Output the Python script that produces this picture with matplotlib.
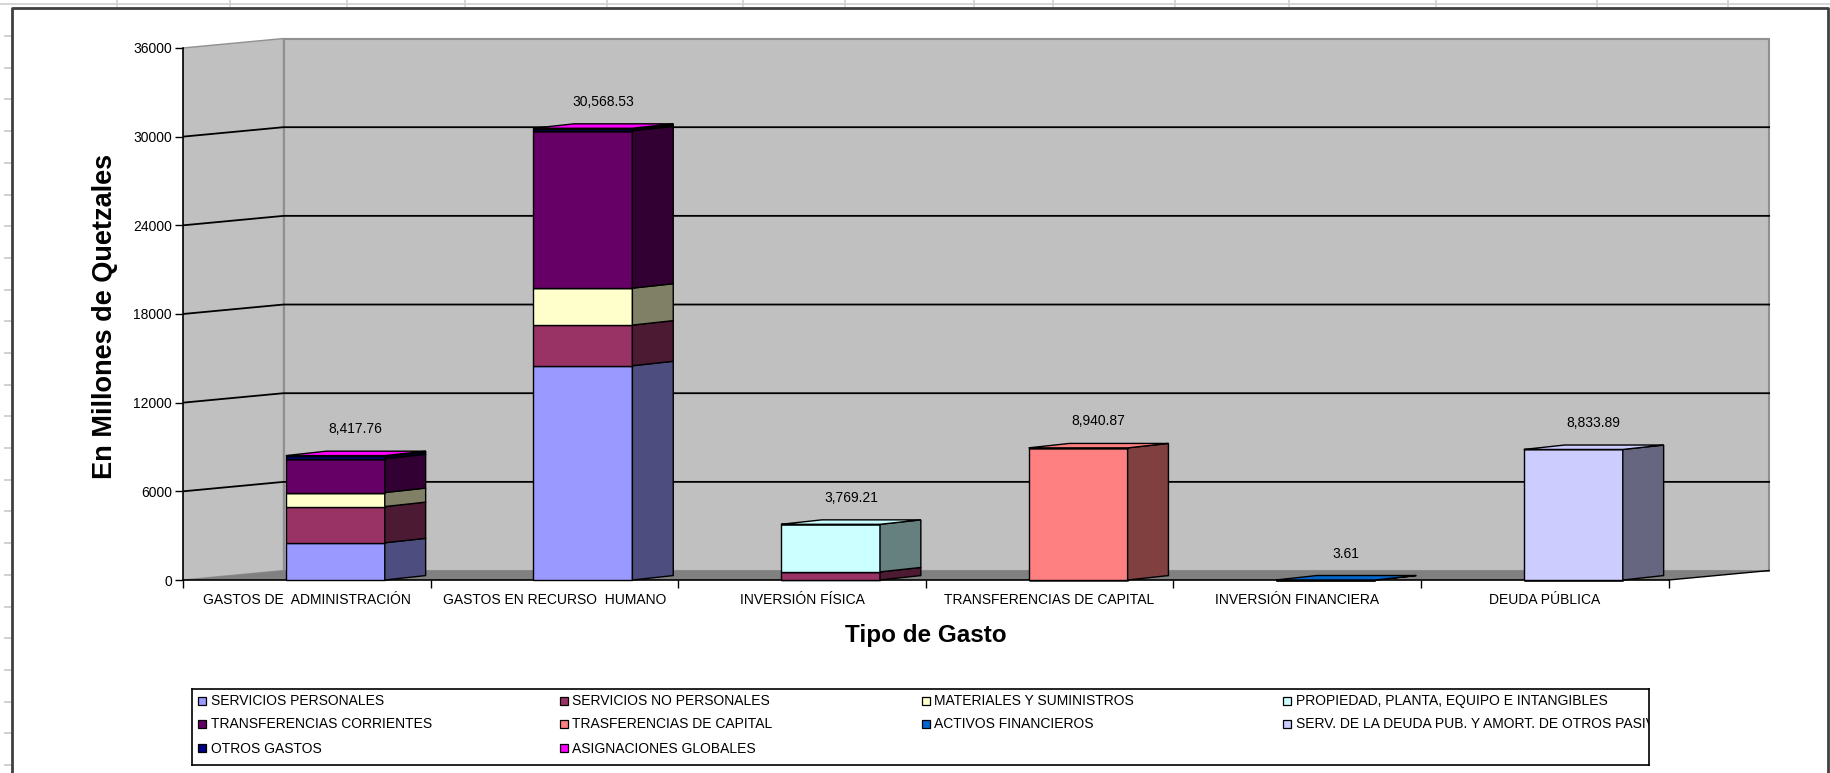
import matplotlib.pyplot as plt
from matplotlib.patches import Polygon, Rectangle
from matplotlib.lines import Line2D

plt.rcParams['font.family'] = ['Liberation Sans', 'DejaVu Sans']

categorias = ["GASTOS DE  ADMINISTRACIÓN", "GASTOS EN RECURSO  HUMANO", "INVERSIÓN FÍSICA",
              "TRANSFERENCIAS DE CAPITAL", "INVERSIÓN FINANCIERA", "DEUDA PÚBLICA"]

# valores por serie (millones de quetzales), una entrada por categoria
servicios_personales  = [2520.00, 14500.00, 0, 0, 0, 0]
servicios_no_pers     = [2450.00, 2750.00, 550.00, 0, 0, 0]
materiales            = [950.00, 2500.00, 0, 0, 0, 0]
propiedad             = [0, 0, 3219.21, 0, 0, 0]
transf_corrientes     = [2290.00, 10650.00, 0, 0, 0, 0]
transf_capital        = [0, 0, 0, 8940.87, 0, 0]
activos_financieros   = [0, 0, 0, 0, 3.61, 0]
serv_deuda            = [0, 0, 0, 0, 0, 8833.89]
otros_gastos          = [150.00, 100.00, 0, 0, 0, 0]
asignaciones_globales = [57.76, 68.53, 0, 0, 0, 0]

nombres = ["SERVICIOS PERSONALES", "SERVICIOS NO PERSONALES", "MATERIALES Y SUMINISTROS",
           "PROPIEDAD, PLANTA, EQUIPO E INTANGIBLES", "TRANSFERENCIAS CORRIENTES",
           "TRASFERENCIAS DE CAPITAL", "ACTIVOS FINANCIEROS",
           "SERV. DE LA DEUDA PUB. Y AMORT. DE OTROS PASIVOS", "OTROS GASTOS",
           "ASIGNACIONES GLOBALES"]
series = [servicios_personales, servicios_no_pers, materiales, propiedad, transf_corrientes,
          transf_capital, activos_financieros, serv_deuda, otros_gastos, asignaciones_globales]
frente = ["#9999FF", "#993366", "#FFFFCC", "#CCFFFF", "#660066",
          "#FF8080", "#0066CC", "#CCCCFF", "#000080", "#FF00FF"]
lado = ["#4D4D80", "#4D1A33", "#808066", "#668080", "#330033",
        "#804040", "#003366", "#666680", "#000040", "#800080"]

yticks = list(range(0, 36001, 6000))

W, H = 1831, 773
fig = plt.figure(figsize=(W / 100, H / 100), dpi=100)
fig.patch.set_facecolor("white")

# geometry of the pseudo-3D view
PX_VAL = 88.67 / 6000
PX_CAT = 247.6
X0, Y0 = 183, 580
YLO, YHI = -1500, 37500
XLO, XHI = 0, 6.62
DXW, DYW = 0.406, 640        # wall depth
BOFF, BW = 0.415, 0.40       # bar front position / width
SDX, SDY = 0.165, 300        # bar depth

ax = fig.add_axes([(X0 + XLO * PX_CAT) / W, (H - (Y0 - YLO * PX_VAL)) / H,
                   (XHI - XLO) * PX_CAT / W, (YHI - YLO) * PX_VAL / H])
ax.set_xlim(XLO, XHI)
ax.set_ylim(YLO, YHI)
ax.set_facecolor("none")
n = len(categorias)
top = yticks[-1]

# walls and floor
ax.add_patch(Polygon([(0, 0), (0, top), (DXW, top + DYW), (DXW, DYW)],
                     fc="#C0C0C0", ec="#909090", lw=1, zorder=0))
ax.add_patch(Rectangle((DXW, DYW), n, top, fc="#C0C0C0", ec="#909090", lw=1.5, zorder=0))
ax.add_patch(Polygon([(0, 0), (n, 0), (n + DXW, DYW), (DXW, DYW)],
                     fc="#808080", ec="none", zorder=1))
ax.plot([n, n + DXW], [0, DYW], color="black", lw=1, zorder=1)
for v in yticks[1:-1]:
    ax.plot([0, DXW, n + DXW], [v, v + DYW, v + DYW], color="black", lw=1.3, zorder=2)

# stacked bars
base = [0.0] * n
top_color = [None] * n
for vals, cf, cs in zip(series, frente, lado):
    xs = [i + BOFF for i in range(n)]
    ax.bar(xs, vals, BW, bottom=base, align="edge", color=cf, edgecolor="black",
           linewidth=1, zorder=4)
    for i, v in enumerate(vals):
        if v <= 0:
            continue
        xb = i + BOFF + BW
        ya, yb = base[i], base[i] + v
        ax.add_patch(Polygon([(xb, ya), (xb + SDX, ya + SDY), (xb + SDX, yb + SDY), (xb, yb)],
                             fc=cs, ec="black", lw=1, zorder=4))
        base[i] = yb
        top_color[i] = cf

for i, t in enumerate(base):
    xa = i + BOFF
    ax.add_patch(Polygon([(xa, t), (xa + BW, t), (xa + BW + SDX, t + SDY), (xa + SDX, t + SDY)],
                         fc=top_color[i], ec="black", lw=1, zorder=5))
    ax.annotate(f"{t:,.2f}", (xa + (BW + SDX) / 2, t), xytext=(0, 19),
                textcoords="offset points", ha="center", va="center", fontsize=10)

# axes
for s in ("top", "right"):
    ax.spines[s].set_visible(False)
ax.spines["bottom"].set_position(("data", 0))
ax.spines["left"].set_bounds(0, top)
ax.spines["bottom"].set_bounds(0, n)
ax.spines["left"].set_linewidth(1.2)
ax.spines["bottom"].set_linewidth(1.2)
ax.spines["bottom"].set_zorder(3)
ax.set_yticks(yticks)
ax.tick_params(axis="y", direction="out", length=6, width=1, pad=2, labelsize=10)
ax.set_xticks(range(n + 1))
ax.set_xticklabels([""] * (n + 1))
ax.tick_params(axis="x", which="major", direction="out", length=6, width=1)
ax.set_xticks([i + 0.5 for i in range(n)], minor=True)
ax.set_xticklabels(categorias, minor=True)
ax.tick_params(axis="x", which="minor", length=0, pad=9, labelsize=10)

ax.set_ylabel("En Millones de Quetzales", fontsize=19.5, fontweight="bold", va="center")
ax.yaxis.set_label_coords(-0.0476, 0.495)
ax.set_xlabel("Tipo de Gasto", fontsize=17.5, fontweight="bold", va="center")
ax.xaxis.set_label_coords(3.0 / (XHI - XLO), -0.0586)

# legend
lx0, lx1, ly0, ly1 = 191.5, 1649, 689, 765
lax = fig.add_axes([lx0 / W, (H - ly1) / H, (lx1 - lx0) / W, (ly1 - ly0) / H])
lax.set_xlim(0, 1)
lax.set_ylim(0, 1)
lax.set_xticks([])
lax.set_yticks([])
for s in lax.spines.values():
    s.set_linewidth(1.2)
filas = [0.847, 0.539, 0.217]
msz = 8 / (lx1 - lx0)
for k, (nom, cf) in enumerate(zip(nombres, frente)):
    cx = 0.0048 + (k % 4) * 0.2481
    cy = filas[k // 4]
    lax.add_patch(Rectangle((cx, cy - 0.052), msz, 0.105, fc=cf, ec="black", lw=0.9))
    lax.text(cx + msz + 0.003, cy, nom, fontsize=10, va="center", ha="left", clip_on=True)

# spreadsheet background and chart border
def fline(xs, ys, **kw):
    fig.add_artist(Line2D([x / W for x in xs], [1 - y / H for y in ys], **kw))

fline([0, W], [4, 4], color="#D0D0D0", lw=1.2)
for cx in [117, 230, 347, 465, 607, 743, 845, 974, 1053, 1175, 1289, 1436, 1597, 1728]:
    fline([cx, cx], [0, 6], color="#D0D0D0", lw=1.2)
ry = 36
while ry < H:
    fline([5, 11], [ry, ry], color="#C8C8C8", lw=1.2)
    ry += 31.7
fline([12, 12, 1828, 1828], [H, 7.5, 7.5, H], color="#404040", lw=2)

fig.savefig("out.png", dpi=100)
